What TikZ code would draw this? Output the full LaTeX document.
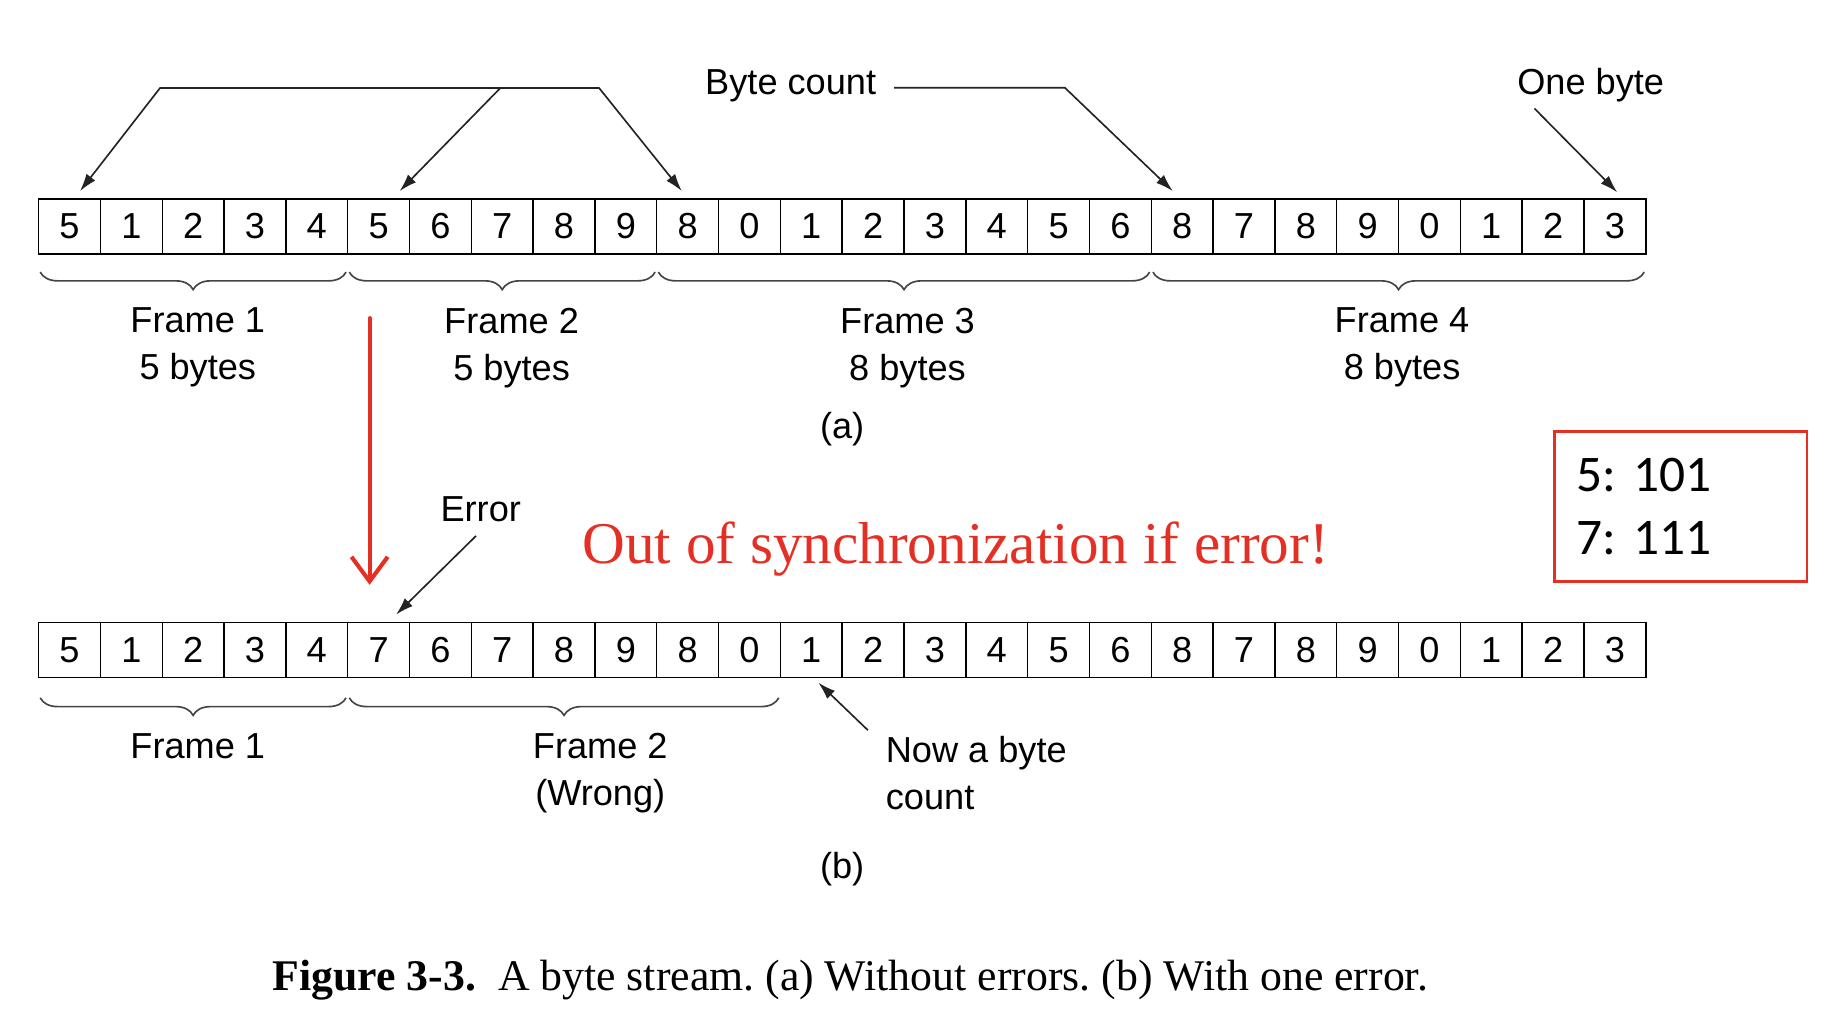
\documentclass[tikz,border=0pt]{standalone}
\usepackage{fontspec}
\setmainfont{Liberation Sans}
\newfontfamily\seriffont{Liberation Serif}
\newfontfamily\boxfont{Carlito}
\usepackage{tikz}
\usetikzlibrary{positioning,arrows.meta,calc,decorations.pathreplacing}
\usepackage{xcolor}
\definecolor{errred}{RGB}{228,48,36}
\definecolor{linegray}{RGB}{35,35,35}
\frenchspacing

\begin{document}
\begin{tikzpicture}[
  x=0.02cm, y=-0.02cm,
  >={Latex[length=0.3cm,width=0.19cm]},
  font=\fontsize{17.6}{22.8}\selectfont,
  cell/.style={rectangle, draw, line width=0.7pt, minimum width=1.057cm, minimum height=0.94cm, inner sep=0pt},
  brc/.style={decorate, decoration={brace, mirror, amplitude=0.3cm}, line width=0.8pt, draw=linegray!85},
  arr/.style={->, line width=0.8pt, draw=linegray},
  txt/.style={inner sep=0pt, align=center},
  redarr/.style={-{Straight Barb[length=0.42cm,width=0.62cm]}, line width=2pt, line cap=round, draw=errred},
  redbox/.style={rectangle, draw=errred, line width=1.3pt, minimum width=4.32cm, minimum height=2.56cm, inner xsep=0.38cm, text width=3.56cm, align=left, font=\boxfont\fontsize{25}{30.6}\selectfont},
]
\useasboundingbox (0,0) rectangle (1568,872);

% === (a): stream without errors ===
\foreach \v [count=\i] in {5,1,2,3,4,5,6,7,8,9,8,0,1,2,3,4,5,6,8,7,8,9,0,1,2,3}
  \node[cell] (a\i) at ({33+(\i-0.5)*52.85},193.5) {\v};

\draw[brc] ($(a1.south west)+(2,15)$) -- node[txt, midway, below=0.6cm, xshift=0.08cm] (fa1) {Frame 1\\5 bytes} ($(a5.south east)+(-2,15)$);
\draw[brc] ($(a6.south west)+(2,15)$) -- node[txt, midway, below=0.6cm, xshift=0.16cm] (fa2) {Frame 2\\5 bytes} ($(a10.south east)+(-2,15)$);
\draw[brc] ($(a11.south west)+(2,15)$) -- node[txt, midway, below=0.6cm, xshift=0.06cm] (fa3) {Frame 3\\8 bytes} ($(a18.south east)+(-2,15)$);
\draw[brc] ($(a19.south west)+(2,15)$) -- node[txt, midway, below=0.6cm, xshift=0.06cm] (fa4) {Frame 4\\8 bytes} ($(a26.south east)+(-2,15)$);
\node[txt] (capa) at (720,367) {(a)};

% byte count pointers
\coordinate (bc1) at (137,75);
\coordinate (bc2) at (428,75);
\coordinate (bc3) at (512,75);
\draw[line width=0.8pt, draw=linegray] (bc1) -- (bc3);
\draw[arr] (bc1) -- ($(a1.north)+(9,-6)$);
\draw[arr] (bc2) -- ($(a6.north)+(18,-6)$);
\draw[arr] (bc3) -- ($(a11.north)+(-5,-6)$);
\node[txt] (bytecount) at (676,73) {Byte count};
\draw[arr] ($(bytecount.east)+(15,2)$) -- ++(146,0) -- ($(a19.north)+(-8,-6)$);
\node[txt] (onebyte) at (1360,73) {One byte};
\draw[arr] ($(onebyte.south west)+(15,5)$) -- ($(a26.north)+(2,-5)$);

% === (b): stream with one error ===
\foreach \v [count=\i] in {5,1,2,3,4,7,6,7,8,9,8,0,1,2,3,4,5,6,8,7,8,9,0,1,2,3}
  \node[cell] (b\i) at ({33+(\i-0.5)*52.85},555.5) {\v};

\draw[brc] ($(b1.south west)+(2,17)$) -- node[txt, midway, below=0.6cm, xshift=0.08cm] (fb1) {Frame 1} ($(b5.south east)+(-2,17)$);
\draw[brc] ($(b6.south west)+(2,17)$) -- node[txt, midway, below=0.6cm, xshift=0.62cm] (fb2) {Frame 2\\(Wrong)} ($(b12.south east)+(-2,17)$);
\node[txt] (capb) at (720,743) {(b)};

\node[txt] (errlbl) at (411,435) {Error};
\draw[arr] ($(errlbl.south)+(-4,12)$) -- ($(b6.north)+(15,-6)$);
\node[txt, align=left, anchor=west] (nowbc) at (757,661) {Now a byte\\count};
\draw[arr] ($(nowbc.north west)+(-15,-5)$) -- ($(b13.south)+(6,4)$);

% === annotations ===
\coordinate (redtop) at (316,272);
\coordinate (redbot) at (316,500);
\draw[redarr] (redtop) -- (redbot);
\node[txt, text=errred, font=\seriffont\fontsize{28.8}{34}\selectfont] (sync) at (817,469) {Out of synchronization if error!};
\node[redbox] (codes) at (1437,433) {5: 101\\7: 111};

\node[txt, font=\seriffont\fontsize{21.3}{25}\selectfont] (caption) at (727,838) {\textbf{Figure 3-3.}\enspace A byte stream. (a) Without errors. (b) With one error.};
\end{tikzpicture}
\end{document}
